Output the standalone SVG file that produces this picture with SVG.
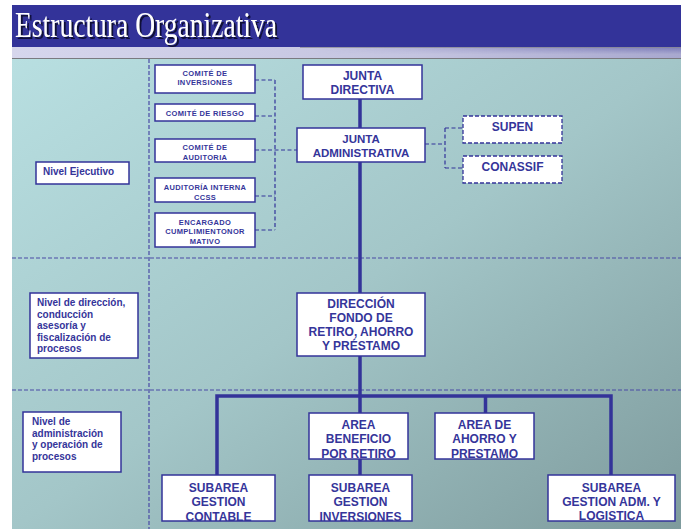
<svg xmlns="http://www.w3.org/2000/svg" width="681" height="529" viewBox="0 0 681 529">
  <defs>
    <linearGradient id="bg" x1="0" y1="0" x2="1" y2="1">
      <stop offset="0" stop-color="#b8dfe1"/>
      <stop offset="0.5" stop-color="#a3c6c8"/>
      <stop offset="1" stop-color="#7e9b9d"/>
    </linearGradient>
    <linearGradient id="strip" x1="0" y1="0" x2="1" y2="0">
      <stop offset="0" stop-color="#d6d6ec"/>
      <stop offset="0.6" stop-color="#c4c4e0"/>
      <stop offset="1" stop-color="#a8a8cf"/>
    </linearGradient>
    <linearGradient id="stripShade" x1="0" y1="0" x2="0" y2="1">
      <stop offset="0" stop-color="#5a5aa8" stop-opacity="0.6"/>
      <stop offset="0.6" stop-color="#5a5aa8" stop-opacity="0"/>
    </linearGradient>
    <linearGradient id="stripFade" x1="0" y1="0" x2="1" y2="0">
      <stop offset="0" stop-color="#fff" stop-opacity="0"/>
      <stop offset="0.45" stop-color="#fff" stop-opacity="0"/>
      <stop offset="1" stop-color="#fff" stop-opacity="1"/>
    </linearGradient>
    <mask id="fadeMask">
      <rect x="12" y="47" width="669" height="12" fill="url(#stripFade)"/>
    </mask>
    <filter id="titleShadow" x="-5%" y="-20%" width="115%" height="150%">
      <feDropShadow dx="2" dy="2" stdDeviation="0.6" flood-color="#0c0c30" flood-opacity="0.95"/>
    </filter>
  </defs>
  <style>
    .box { fill: #ffffff; stroke: #333399; stroke-width: 1.5; }
    .dbox { fill: #ffffff; stroke: #333399; stroke-width: 1.3; stroke-dasharray: 4 2; }
    .t { font-family: "Liberation Sans", Arial, sans-serif; font-weight: bold; fill: #35359a; text-anchor: middle; }
    .s { font-size: 7.5px; letter-spacing: 0.35px; }
    .m { font-size: 12px; }
    .lvl { font-family: "Liberation Sans", Arial, sans-serif; font-weight: bold; font-size: 10px; fill: #35359a; }
    .sep { stroke: #4a4aa6; stroke-width: 1.2; stroke-dasharray: 4 2; fill: none; }
    .dash { stroke: #333399; stroke-width: 1.2; stroke-dasharray: 4 2.5; fill: none; }
    .solid { stroke: #333399; stroke-width: 3.5; fill: none; }
  </style>

  <!-- page -->
  <rect x="0" y="0" width="681" height="529" fill="#ffffff"/>
  <rect x="12" y="59" width="669" height="470" fill="url(#bg)"/>

  <!-- title band -->
  <rect x="12" y="5" width="669" height="42" fill="#333399"/>
  <rect x="12" y="47" width="669" height="12" fill="url(#strip)"/>
  <rect x="12" y="47" width="669" height="12" fill="url(#stripShade)" mask="url(#fadeMask)"/>
  <line x1="12" y1="58.5" x2="681" y2="58.5" stroke="#7a7a80" stroke-width="1"/>
  <line x1="300" y1="47.5" x2="681" y2="47.5" stroke="#8a8a90" stroke-width="1" opacity="0.7"/>
  <text x="15" y="37" font-family="'Liberation Serif', 'Times New Roman', serif" font-size="35" fill="#ffffff" textLength="262" lengthAdjust="spacingAndGlyphs" filter="url(#titleShadow)">Estructura Organizativa</text>

  <!-- level separators -->
  <g id="separators">
    <line class="sep" x1="149" y1="59" x2="149" y2="529"/>
    <line class="sep" x1="12" y1="258" x2="681" y2="258"/>
    <line class="sep" x1="12" y1="390" x2="681" y2="390"/>
  </g>

  <!-- connectors -->
  <g id="connectors">
    <path class="solid" d="M360 99 V128 M360 162 V293 M360 356 V413 M360 459 V475 M217 475 V396 H611 V475 M485.5 396 V413"/>
    <path class="dash" d="M255 80 H275 M255 116 H275 M255 150 H297 M255 196 H275 M255 230 H275 M275 80 V230"/>
    <path class="dash" d="M425 144 H445 M445 128 V168 M445 128 H463 M445 168 H463"/>
  </g>

  <!-- level labels -->
  <g id="nivel-ejecutivo">
    <rect class="box" x="36" y="162" width="93" height="22"/>
    <text class="lvl" x="43" y="175">Nivel Ejecutivo</text>
  </g>
  <g id="nivel-direccion">
    <rect class="box" x="30" y="293" width="108" height="65"/>
    <text class="lvl" x="37"><tspan x="37" y="306">Nivel de dirección,</tspan><tspan x="37" y="317.5">conducción</tspan><tspan x="37" y="329">asesoría y</tspan><tspan x="37" y="340.5">fiscalización de</tspan><tspan x="37" y="352">procesos</tspan></text>
  </g>
  <g id="nivel-administracion">
    <rect class="box" x="23" y="412" width="98" height="60"/>
    <text class="lvl" x="32"><tspan x="32" y="425">Nivel de</tspan><tspan x="32" y="436.5">administración</tspan><tspan x="32" y="448">y operación de</tspan><tspan x="32" y="459.5">procesos</tspan></text>
  </g>

  <!-- committees -->
  <g id="comite-inversiones">
    <rect class="box" x="155" y="65" width="100" height="28"/>
    <text class="t s"><tspan x="205" y="76">COMITÉ DE</tspan><tspan x="205" y="85">INVERSIONES</tspan></text>
  </g>
  <g id="comite-riesgo">
    <rect class="box" x="155" y="104" width="100" height="17"/>
    <text class="t s" x="205" y="116">COMITÉ DE RIESGO</text>
  </g>
  <g id="comite-auditoria">
    <rect class="box" x="155" y="139" width="100" height="23"/>
    <text class="t s"><tspan x="205" y="150">COMITÉ DE</tspan><tspan x="205" y="159.5">AUDITORIA</tspan></text>
  </g>
  <g id="auditoria-interna">
    <rect class="box" x="155" y="178" width="100" height="24"/>
    <text class="t s"><tspan x="205" y="190">AUDITORÍA INTERNA</tspan><tspan x="205" y="199.5">CCSS</tspan></text>
  </g>
  <g id="encargado-cumplimiento">
    <rect class="box" x="155" y="213" width="100" height="34"/>
    <text class="t s"><tspan x="205" y="224.5">ENCARGADO</tspan><tspan x="205" y="234">CUMPLIMIENTONOR</tspan><tspan x="205" y="243.5">MATIVO</tspan></text>
  </g>

  <!-- governance -->
  <g id="junta-directiva">
    <rect class="box" x="303" y="65" width="119" height="34"/>
    <text class="t m"><tspan x="362.5" y="80">JUNTA</tspan><tspan x="362.5" y="94">DIRECTIVA</tspan></text>
  </g>
  <g id="junta-administrativa">
    <rect class="box" x="297" y="128" width="128" height="34"/>
    <text class="t" font-size="11.5"><tspan x="361" y="142.5">JUNTA</tspan><tspan x="361" y="157">ADMINISTRATIVA</tspan></text>
  </g>
  <g id="supen">
    <rect class="dbox" x="463" y="116" width="99" height="27"/>
    <text class="t m" x="512.5" y="131">SUPEN</text>
  </g>
  <g id="conassif">
    <rect class="dbox" x="463" y="156" width="99" height="27"/>
    <text class="t m" x="512.5" y="171">CONASSIF</text>
  </g>

  <!-- direction -->
  <g id="direccion-fondo">
    <rect class="box" x="297" y="293" width="128" height="63"/>
    <text class="t m"><tspan x="361" y="308">DIRECCIÓN</tspan><tspan x="361" y="322">FONDO DE</tspan><tspan x="361" y="336">RETIRO, AHORRO</tspan><tspan x="361" y="350">Y PRÉSTAMO</tspan></text>
  </g>

  <!-- areas -->
  <g id="area-beneficio">
    <rect class="box" x="309" y="413" width="99" height="46"/>
    <text class="t m"><tspan x="358.5" y="428.5">AREA</tspan><tspan x="358.5" y="443">BENEFICIO</tspan><tspan x="358.5" y="458">POR RETIRO</tspan></text>
  </g>
  <g id="area-ahorro">
    <rect class="box" x="435" y="413" width="99" height="46"/>
    <text class="t m"><tspan x="484.5" y="428.5">AREA DE</tspan><tspan x="484.5" y="443">AHORRO Y</tspan><tspan x="484.5" y="458">PRESTAMO</tspan></text>
  </g>

  <!-- sub-areas -->
  <g id="subarea-contable">
    <rect class="box" x="162" y="475" width="113" height="46"/>
    <text class="t m"><tspan x="218.5" y="492">SUBAREA</tspan><tspan x="218.5" y="506">GESTION</tspan><tspan x="218.5" y="520.5">CONTABLE</tspan></text>
  </g>
  <g id="subarea-inversiones">
    <rect class="box" x="309" y="475" width="103" height="46"/>
    <text class="t m"><tspan x="360.5" y="492">SUBAREA</tspan><tspan x="360.5" y="506">GESTION</tspan><tspan x="360.5" y="520.5">INVERSIONES</tspan></text>
  </g>
  <g id="subarea-logistica">
    <rect class="box" x="548" y="475" width="127" height="46"/>
    <text class="t m"><tspan x="611.5" y="492">SUBAREA</tspan><tspan x="611.5" y="506">GESTION ADM. Y</tspan><tspan x="611.5" y="520">LOGISTICA</tspan></text>
  </g>
</svg>
